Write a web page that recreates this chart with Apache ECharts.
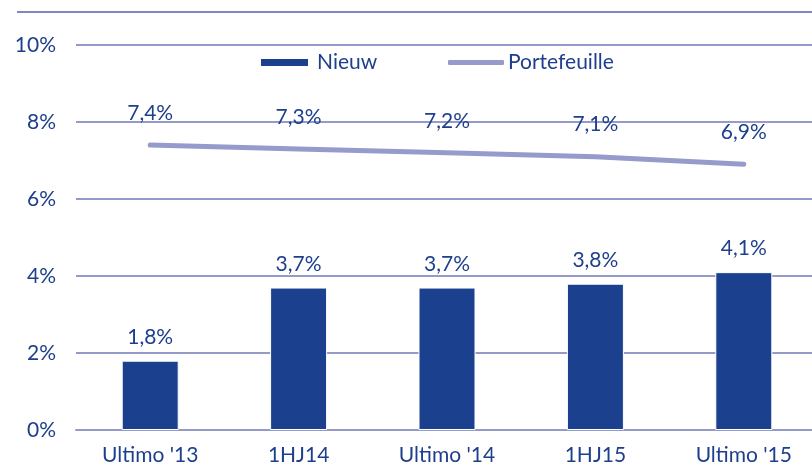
<!DOCTYPE html>
<html>
<head>
<meta charset="utf-8">
<script src="https://cdn.jsdelivr.net/npm/echarts@6/dist/echarts.min.js"></script>
<style>
  html, body { margin: 0; padding: 0; background: #fff; }
  #chart { width: 812px; height: 466px; }
</style>
</head>
<body>
<div id="chart"></div>
<script>
const categories = ["Ultimo '13", '1HJ14', "Ultimo '14", '1HJ15', "Ultimo '15"]
const nieuwValues = [1.8, 3.7, 3.7, 3.8, 4.1]
const portefeuilleValues = [7.4, 7.3, 7.2, 7.1, 6.9]
const yTicks = [0, 2, 4, 6, 8, 10]

const textColor = '#1d3f8c'
const barColor = '#1a408e'
const lineColor = '#959bcb'
const gridColor = '#959ac9'
const font = 'Lato'
const fs = 21

const pct = (v) => String(v).replace('.', ',') + '%'

const chart = echarts.init(document.getElementById('chart'), null, { renderer: 'canvas' })

chart.setOption({
  animation: false,
  textStyle: { fontFamily: font },
  graphic: [
    {
      type: 'line',
      shape: { x1: 17, y1: 12, x2: 812, y2: 12 },
      style: { stroke: '#8088c0', lineWidth: 2 }
    }
  ],
  legend: [
    {
      data: ['Nieuw'],
      left: 254,
      top: 47,
      icon: 'rect',
      itemWidth: 49,
      itemHeight: 9,
      textStyle: { fontFamily: font, fontSize: fs, color: textColor, padding: [0, 0, 0, 3] }
    },
    {
      data: [{ name: 'Portefeuille', icon: 'roundRect' }],
      left: 443,
      top: 47,
      itemWidth: 56,
      itemHeight: 5,
      textStyle: { fontFamily: font, fontSize: fs, color: textColor, padding: [0, 0, 0, -1] }
    }
  ],
  grid: {
    left: 76,
    width: 742,
    top: 45,
    bottom: 36,
    outerBoundsMode: 'none'
  },
  xAxis: {
    type: 'category',
    data: categories,
    axisTick: { show: false },
    axisLine: { show: true, lineStyle: { color: gridColor, width: 2 } },
    axisLabel: { fontFamily: font, fontSize: fs, color: textColor, margin: 15 }
  },
  yAxis: {
    type: 'value',
    min: yTicks[0],
    max: yTicks[yTicks.length - 1],
    interval: 2,
    axisLine: { show: false },
    axisTick: { show: false },
    axisLabel: {
      fontFamily: font,
      fontSize: fs,
      color: textColor,
      margin: 20,
      formatter: (v) => v + '%'
    },
    splitLine: { show: true, lineStyle: { color: gridColor, width: 2 } }
  },
  series: [
    {
      name: 'Nieuw',
      type: 'bar',
      data: nieuwValues,
      barWidth: 57,
      itemStyle: { color: barColor, borderColor: '#fff', borderWidth: 1 },
      label: {
        show: true,
        position: 'top',
        distance: 13,
        fontFamily: font,
        fontSize: fs,
        color: textColor,
        formatter: (p) => pct(p.value)
      },
      z: 3
    },
    {
      name: 'Portefeuille',
      type: 'line',
      data: portefeuilleValues,
      symbol: 'circle',
      symbolSize: 1,
      showSymbol: true,
      itemStyle: { color: lineColor },
      lineStyle: { color: lineColor, width: 5, cap: 'round' },
      label: {
        show: true,
        position: 'top',
        distance: 21,
        fontFamily: font,
        fontSize: fs,
        color: textColor,
        formatter: (p) => pct(p.value)
      },
      z: 4
    }
  ]
})
</script>
</body>
</html>
